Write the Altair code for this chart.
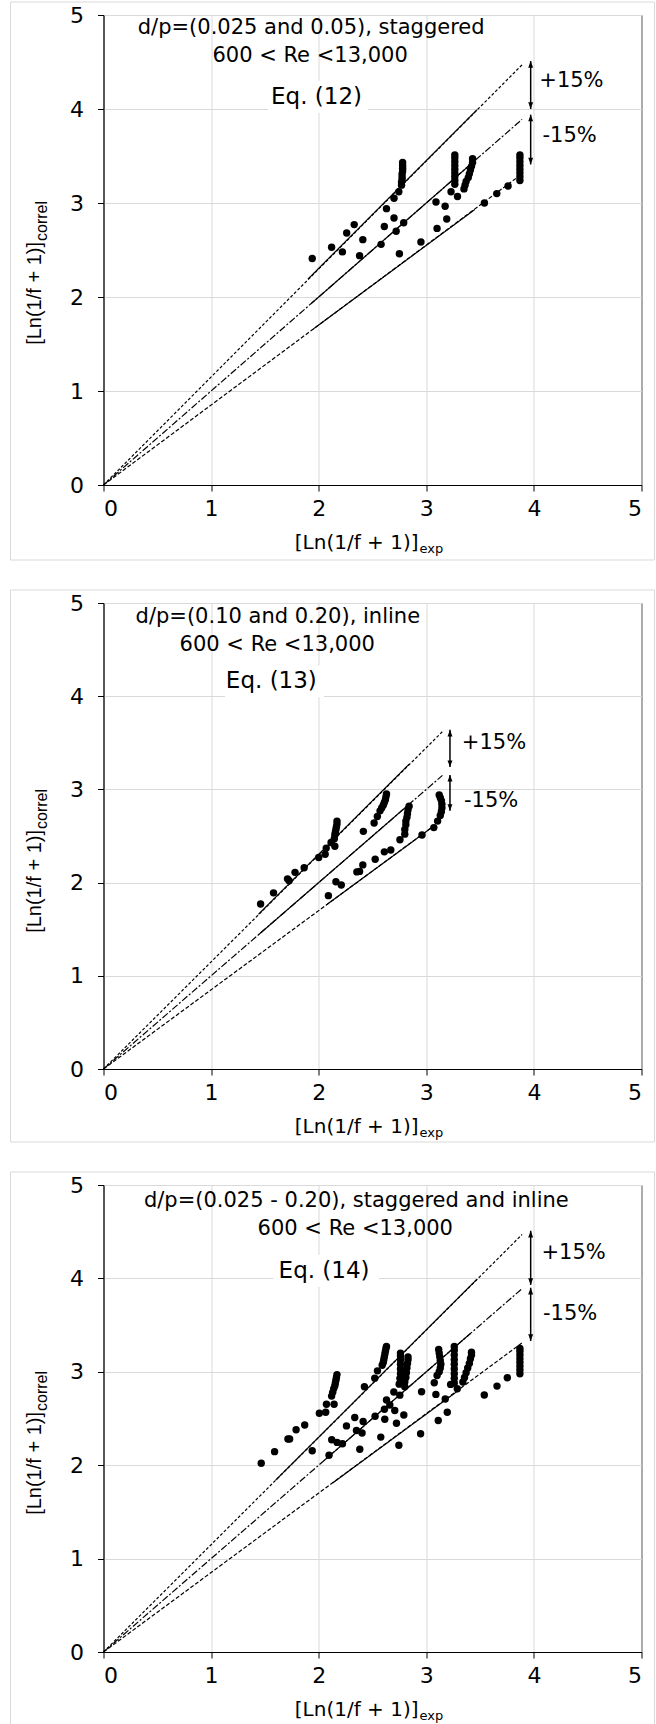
import altair as alt
import pandas as pd

W = 538
FONT = "DejaVu Sans"
YT_FONT = "Liberation Sans"

# ---------------- Panel 1: d/p = 0.025 and 0.05, staggered ----------------
P1_X = [1.94, 2.12, 2.22, 2.26, 2.33, 2.41, 2.38, 2.58, 2.61, 2.63, 2.70, 2.72, 2.79,
        2.75, 2.70, 2.745, 2.95, 3.09, 3.10, 3.175, 3.19, 3.23, 3.29, 3.54, 3.655, 3.76,
        2.77, 2.77, 2.775, 2.775, 2.775, 2.78, 2.78, 2.78, 2.78,
        3.265, 3.265, 3.265, 3.265, 3.265, 3.265, 3.265, 3.265, 3.265,
        3.35, 3.36, 3.37, 3.39, 3.40, 3.41, 3.42, 3.43, 3.43,
        3.87, 3.87, 3.87, 3.87, 3.87, 3.87, 3.87, 3.87]
P1_Y = [2.41, 2.53, 2.48, 2.68, 2.77, 2.61, 2.44, 2.56, 2.75, 2.94, 2.84, 2.70, 2.79,
        2.46, 3.05, 3.12, 2.585, 3.01, 2.73, 2.965, 2.83, 3.12, 3.07, 3.00, 3.10, 3.18,
        3.19, 3.22, 3.25, 3.28, 3.31, 3.34, 3.37, 3.40, 3.43,
        3.20, 3.24, 3.28, 3.32, 3.36, 3.40, 3.44, 3.48, 3.51,
        3.15, 3.19, 3.23, 3.27, 3.31, 3.35, 3.39, 3.43, 3.47,
        3.24, 3.28, 3.32, 3.36, 3.40, 3.44, 3.48, 3.51]
P1_LINE_X = [0, 3.89, 0, 3.89, 0, 3.89, 1.90, 3.47, 1.93, 3.42, 1.95, 3.45]
P1_LINE_Y = [0, 4.47, 0, 3.89, 0, 3.31, 2.19, 3.99, 1.93, 3.42, 1.66, 2.93]
P1_TEXT = ["d/p=(0.025 and 0.05), staggered", "600 < Re <13,000", "Eq. (12)"]
P1_TEXT_X = [1.93, 1.92, 1.98]
P1_TEXT_Y = [4.86, 4.56, 4.13]
P1_BOX = [1.53, 2.46, 3.96, 4.30]
P1_ARROW_X = 3.97
P1_ARROW_TOP = [4.51, 3.94]
P1_ARROW_BOT = [4.00, 3.41]
P1_PCT_X = [4.05, 4.08]
P1_PCT_Y = [4.30, 3.71]

# ---------------- Panel 2: d/p = 0.10 and 0.20, inline ----------------
P2_X = [1.46, 1.58, 1.71, 1.725, 1.78, 1.865, 2.00, 2.06, 2.07, 2.115, 2.15, 2.09, 2.16,
        2.21, 2.355, 2.38, 2.41, 2.415, 2.515, 2.525, 2.545, 2.61, 2.67, 2.755, 2.96,
        3.07, 3.105,
        2.145, 2.15, 2.155, 2.16, 2.165, 2.17, 2.17,
        2.57, 2.585, 2.60, 2.61, 2.62, 2.625, 2.63,
        2.80, 2.80, 2.81, 2.81, 2.82, 2.825, 2.83, 2.84,
        3.13, 3.14, 3.145, 3.145, 3.14, 3.13, 3.12]
P2_Y = [1.77, 1.89, 2.04, 2.02, 2.11, 2.16, 2.27, 2.305, 2.37, 2.43, 2.39, 1.86, 2.01,
        1.975, 2.115, 2.12, 2.19, 2.55, 2.64, 2.25, 2.71, 2.33, 2.35, 2.46, 2.51,
        2.59, 2.66,
        2.47, 2.51, 2.54, 2.57, 2.60, 2.63, 2.66,
        2.77, 2.80, 2.83, 2.86, 2.89, 2.92, 2.95,
        2.52, 2.57, 2.62, 2.66, 2.70, 2.74, 2.78, 2.82,
        2.72, 2.76, 2.80, 2.84, 2.88, 2.91, 2.94]
P2_LINE_X = [0, 3.15, 0, 3.15, 0, 3.13, 1.44, 2.84, 1.44, 2.83, 2.07, 3.05]
P2_LINE_Y = [0, 3.62, 0, 3.15, 0, 2.66, 1.66, 3.27, 1.44, 2.83, 1.76, 2.59]
P2_TEXT = ["d/p=(0.10 and 0.20), inline", "600 < Re <13,000", "Eq. (13)"]
P2_TEXT_X = [1.62, 1.615, 1.56]
P2_TEXT_Y = [4.85, 4.55, 4.16]
P2_BOX = [1.13, 2.05, 3.99, 4.33]
P2_ARROW_X = 3.22
P2_ARROW_TOP = [3.64, 3.155]
P2_ARROW_BOT = [3.24, 2.77]
P2_PCT_X = [3.33, 3.35]
P2_PCT_Y = [3.50, 2.88]

# ---------------- Panel 3: d/p = 0.025 - 0.20, staggered and inline ----------------
P3_X = [1.466, 1.59, 1.714, 1.73, 1.79, 1.87, 1.94, 2.006, 2.065, 2.072, 2.143, 2.096,
        2.121, 2.171, 2.221, 2.258, 2.335, 2.351, 2.382, 2.403, 2.413, 2.425, 2.524,
        2.521, 2.546, 2.577, 2.614, 2.611, 2.63, 2.661, 2.698, 2.707, 2.723, 2.745,
        2.748, 2.791, 2.754, 2.956, 2.947, 3.074, 3.089, 3.111, 3.195, 3.176, 3.226,
        3.288, 3.539, 3.657, 3.753,
        2.12, 2.13, 2.14, 2.15, 2.155, 2.16, 2.165, 2.17,
        2.59, 2.60, 2.605, 2.61, 2.615, 2.62, 2.625, 2.63,
        2.755, 2.755, 2.76, 2.76, 2.76, 2.76, 2.76, 2.76,
        2.80, 2.80, 2.81, 2.815, 2.82, 2.825, 2.83, 2.83,
        3.10, 3.12, 3.13, 3.135, 3.13, 3.125, 3.12, 3.115,
        3.26, 3.26, 3.26, 3.26, 3.26, 3.26, 3.26, 3.26, 3.26,
        3.34, 3.355, 3.37, 3.385, 3.40, 3.41, 3.42, 3.42,
        3.87, 3.87, 3.87, 3.87, 3.87, 3.87, 3.87, 3.87]
P3_Y = [2.02, 2.145, 2.28, 2.28, 2.38, 2.43, 2.155, 2.556, 2.567, 2.652, 2.652, 2.106,
        2.272, 2.244, 2.23, 2.421, 2.51, 2.372, 2.17, 2.344, 2.468, 2.84, 2.524,
        2.932, 3.01, 2.301, 2.492, 2.599, 2.698, 2.645, 2.783, 2.585, 2.45, 2.213,
        2.868, 2.538, 2.75, 2.787, 2.336, 2.883, 2.758, 2.479, 2.567, 2.709, 2.865,
        2.819, 2.751, 2.847, 2.936,
        2.74, 2.78, 2.82, 2.85, 2.88, 2.91, 2.94, 2.97,
        3.07, 3.10, 3.13, 3.16, 3.19, 3.22, 3.25, 3.27,
        2.88, 2.93, 2.98, 3.03, 3.08, 3.13, 3.17, 3.20,
        2.84, 2.89, 2.94, 2.99, 3.04, 3.09, 3.13, 3.16,
        2.96, 3.00, 3.04, 3.08, 3.12, 3.16, 3.20, 3.24,
        2.88, 2.93, 2.98, 3.03, 3.08, 3.13, 3.18, 3.23, 3.27,
        2.89, 2.94, 2.99, 3.04, 3.09, 3.14, 3.18, 3.21,
        2.98, 3.02, 3.06, 3.10, 3.14, 3.18, 3.22, 3.25]
P3_LINE_X = [0, 3.89, 0, 3.89, 0, 3.89, 1.60, 3.47, 2.05, 3.41, 2.13, 3.31]
P3_LINE_Y = [0, 4.47, 0, 3.89, 0, 3.31, 1.84, 3.99, 2.05, 3.41, 1.81, 2.81]
P3_TEXT = ["d/p=(0.025 - 0.20), staggered and inline", "600 < Re <13,000", "Eq. (14)"]
P3_TEXT_X = [2.35, 2.34, 2.05]
P3_TEXT_Y = [4.83, 4.53, 4.08]
P3_BOX = [1.58, 2.56, 3.91, 4.25]
P3_ARROW_X = 3.97
P3_ARROW_TOP = [4.51, 3.90]
P3_ARROW_BOT = [3.93, 3.33]
P3_PCT_X = [4.07, 4.085]
P3_PCT_Y = [4.27, 3.62]

# shared line structure
LINE_SEG = ["up", "up", "mid", "mid", "low", "low",
            "up_s", "up_s", "mid_s", "mid_s", "low_s", "low_s"]
LINE_STYLE = ["short", "short", "dashdot", "dashdot", "dash", "dash",
              "solid", "solid", "solid", "solid", "solid", "solid"]
TEXT_SIZE = [21, 21, 23]
PCT_TEXT = ["+15%", "-15%"]
TICKS = [0, 1, 2, 3, 4, 5]

UP_HEAD = "M0,0L-0.7,1.9L0.7,1.9Z"
DOWN_HEAD = "M0,0L-0.7,-1.9L0.7,-1.9Z"


def panel(H, fb, px, py, lx, ly, texts, tx, ty, box, ax, atop, abot, pctx, pcty):
    xs = alt.Scale(domain=[0, 5], nice=False, zero=False)
    ys = alt.Scale(domain=[0, 5], nice=False, zero=False)
    X = alt.X("x:Q", scale=xs, axis=alt.Axis(values=TICKS, format="d", title=None))
    Y = alt.Y("y:Q", scale=ys, axis=alt.Axis(values=TICKS, format="d", title=None))

    one = pd.DataFrame({"a": [0]})
    frame = alt.Chart(one).mark_rect(color="white", fillOpacity=0, stroke="#d9d9d9",
                                     strokeWidth=1).encode(
        x=alt.value(-93), x2=alt.value(W + 13), y=alt.value(-13), y2=alt.value(H + fb))

    boxdf = pd.DataFrame({"x": [box[0]], "x2": [box[1]], "y": [box[2]], "y2": [box[3]]})
    eqbox = alt.Chart(boxdf).mark_rect(color="white").encode(x=X, x2="x2:Q", y=Y, y2="y2:Q")

    ldf = pd.DataFrame({"x": lx, "y": ly, "seg": LINE_SEG, "style": LINE_STYLE})
    lines = alt.Chart(ldf).mark_line(color="black", strokeWidth=1.2).encode(
        x=X, y=Y, detail="seg:N",
        strokeDash=alt.StrokeDash("style:N", legend=None, scale=alt.Scale(
            domain=["short", "dashdot", "dash", "solid"],
            range=[[3, 2], [7, 2, 2, 2], [4, 2], [1, 0]])))

    pdf = pd.DataFrame({"x": px, "y": py})
    pts = alt.Chart(pdf).mark_circle(size=55, color="black", opacity=1).encode(x=X, y=Y)

    adf = pd.DataFrame({"x": [ax, ax], "y": atop, "y2": abot})
    rules = alt.Chart(adf).mark_rule(color="black", strokeWidth=1.5).encode(x=X, y=Y, y2="y2:Q")
    up = alt.Chart(pd.DataFrame({"x": [ax, ax], "y": atop})).mark_point(
        shape=UP_HEAD, filled=True, color="black", size=49, opacity=1, strokeWidth=0).encode(x=X, y=Y)
    down = alt.Chart(pd.DataFrame({"x": [ax, ax], "y": abot})).mark_point(
        shape=DOWN_HEAD, filled=True, color="black", size=49, opacity=1, strokeWidth=0).encode(x=X, y=Y)

    tdf = pd.DataFrame({"x": tx, "y": ty, "t": texts, "s": TEXT_SIZE})
    txt = alt.Chart(tdf).mark_text(font=FONT, color="black", baseline="middle", align="center").encode(
        x=X, y=Y, text="t:N", size=alt.Size("s:Q", scale=None, legend=None))

    pcdf = pd.DataFrame({"x": pctx, "y": pcty, "t": PCT_TEXT})
    pct = alt.Chart(pcdf).mark_text(font=FONT, fontSize=21, color="black", baseline="middle",
                                    align="left").encode(x=X, y=Y, text="t:N")

    xt_main = alt.Chart(one).mark_text(font=FONT, fontSize=20, color="black", align="right",
                                       baseline="alphabetic").encode(
        x=alt.value(315), y=alt.value(H + 64), text=alt.value("[Ln(1/f + 1)]"))
    xt_sub = alt.Chart(one).mark_text(font=FONT, fontSize=13, color="black", align="left",
                                      baseline="alphabetic").encode(
        x=alt.value(316), y=alt.value(H + 68), text=alt.value("exp"))
    yt_main = alt.Chart(one).mark_text(font=YT_FONT, fontSize=20, color="black", align="right",
                                       baseline="alphabetic", angle=270).encode(
        x=alt.value(-63), y=alt.value(227), text=alt.value("[Ln(1/f + 1)]"))
    yt_sub = alt.Chart(one).mark_text(font=YT_FONT, fontSize=16, color="black", align="left",
                                      baseline="alphabetic", angle=270).encode(
        x=alt.value(-57), y=alt.value(226), text=alt.value("correl"))

    return alt.layer(frame, eqbox, lines, pts, rules, up, down, txt, pct,
                     xt_main, xt_sub, yt_main, yt_sub).properties(width=W, height=H)


p1 = panel(470, 75, P1_X, P1_Y, P1_LINE_X, P1_LINE_Y, P1_TEXT, P1_TEXT_X, P1_TEXT_Y, P1_BOX,
           P1_ARROW_X, P1_ARROW_TOP, P1_ARROW_BOT, P1_PCT_X, P1_PCT_Y)
p2 = panel(466, 73, P2_X, P2_Y, P2_LINE_X, P2_LINE_Y, P2_TEXT, P2_TEXT_X, P2_TEXT_Y, P2_BOX,
           P2_ARROW_X, P2_ARROW_TOP, P2_ARROW_BOT, P2_PCT_X, P2_PCT_Y)
p3 = panel(467, 75, P3_X, P3_Y, P3_LINE_X, P3_LINE_Y, P3_TEXT, P3_TEXT_X, P3_TEXT_Y, P3_BOX,
           P3_ARROW_X, P3_ARROW_TOP, P3_ARROW_BOT, P3_PCT_X, P3_PCT_Y)

chart = alt.vconcat(p1, p2, p3, spacing=28).properties(
    padding={"left": 9.5, "top": 1, "right": 0, "bottom": 0},
    background="white",
).configure_view(
    stroke="black", strokeWidth=1
).configure_axis(
    labelFont=FONT, labelFontSize=22, labelColor="black",
    tickColor="black", tickSize=6, domainColor="black",
    gridColor="#d9d9d9", gridWidth=1,
).configure_axisX(labelPadding=7).configure_axisY(labelPadding=14)

chart.save("out.html", embed_options={"renderer": "svg", "actions": False})
